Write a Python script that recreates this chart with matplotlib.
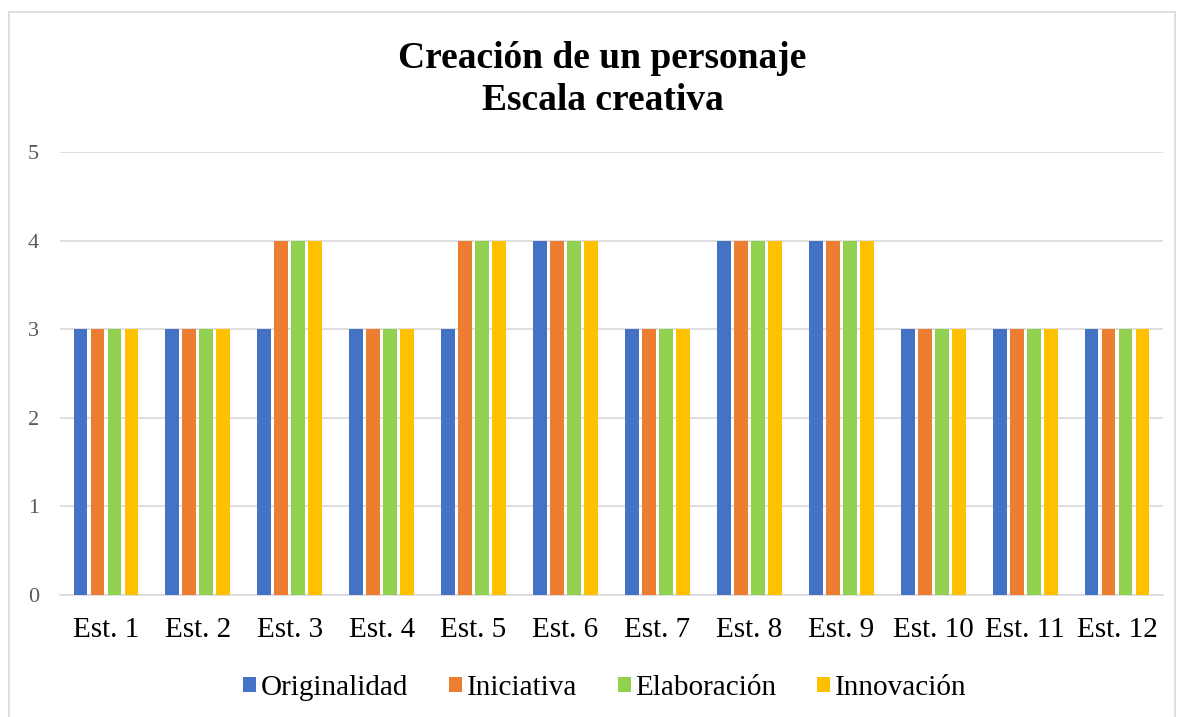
import numpy as np
import matplotlib.pyplot as plt
from matplotlib.patches import Rectangle

categorias = [f'Est. {i}' for i in range(1, 13)]
originalidad = [3, 3, 3, 3, 3, 4, 3, 4, 4, 3, 3, 3]
iniciativa = [3, 3, 4, 3, 4, 4, 3, 4, 4, 3, 3, 3]
elaboracion = [3, 3, 4, 3, 4, 4, 3, 4, 4, 3, 3, 3]
innovacion = [3, 3, 4, 3, 4, 4, 3, 4, 4, 3, 3, 3]

series = [
    ('Originalidad', originalidad, '#4472C4'),
    ('Iniciativa', iniciativa, '#ED7D31'),
    ('Elaboración', elaboracion, '#92D050'),
    ('Innovación', innovacion, '#FFC000'),
]

plt.rcParams['font.family'] = ['Liberation Serif', 'DejaVu Serif']

fig = plt.figure(figsize=(11.79, 7.17), dpi=100)
# marco gris del gráfico
fig.patches.append(Rectangle((9 / 1179, -0.01), 1166 / 1179, 1 - 12 / 717 + 0.01,
                             transform=fig.transFigure, fill=False,
                             edgecolor='#d9d9d9', linewidth=1.2))

ax = fig.add_axes([60 / 1179, 1 - 595 / 717, 1103 / 1179, 443 / 717])

x = np.arange(len(categorias))
ancho = 0.15
paso = 0.185
for k, (nombre, valores, color) in enumerate(series):
    ax.bar(x + (k - 1.5) * paso, valores, width=ancho, color=color, label=nombre, zorder=3)

ax.set_xlim(-0.5, len(categorias) - 0.5)
ax.set_ylim(0, 5)
ax.set_yticks(range(6))
ax.yaxis.grid(True, color='#d9d9d9', linewidth=1.2, zorder=0)
ax.set_axisbelow(True)
for s in ['top', 'right', 'left']:
    ax.spines[s].set_visible(False)
ax.spines['bottom'].set_color('#d9d9d9')
ax.spines['bottom'].set_linewidth(1.2)
ax.tick_params(length=0)
ax.tick_params(axis='y', labelsize=16, labelcolor='#595959', pad=15)
ax.tick_params(axis='x', labelsize=21, pad=16)
ax.set_xticks(x)
ax.set_xticklabels(categorias)

fig.text(0.511, 1 - 58 / 717, 'Creación de un personaje', ha='center', va='center',
         fontsize=27, fontweight='bold')
fig.text(0.511, 1 - 101 / 717, 'Escala creativa', ha='center', va='center',
         fontsize=27, fontweight='bold')

fig.legend(loc='center', bbox_to_anchor=(0.513, 1 - 688 / 717), ncol=4, frameon=False,
           fontsize=21, handlelength=0.45, handleheight=0.45, handletextpad=0.15,
           columnspacing=1.4)

fig.savefig('out.png', dpi=100)
